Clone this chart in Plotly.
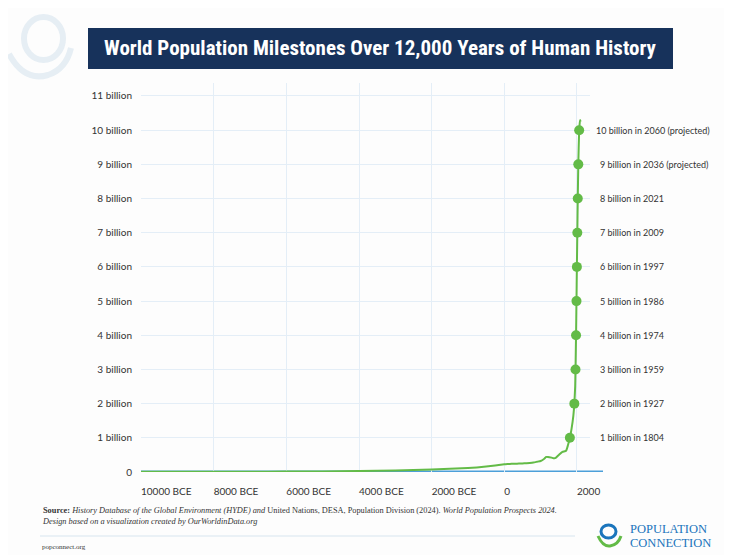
import plotly.graph_objects as go

# ---- data ----
years = [-10000, -9000, -8000, -7000, -6000, -5000, -4000, -3000, -2000, -1000, -500,
         0, 100, 200, 300, 400, 500, 600, 700, 800, 900, 1000, 1100, 1150, 1200, 1300,
         1350, 1400, 1500, 1600, 1700, 1750, 1800, 1804, 1850, 1900, 1927, 1950, 1959,
         1974, 1986, 1997, 2009, 2021, 2036, 2060, 2084, 2100]
population_bn = [0.0044, 0.0054, 0.0070, 0.0090, 0.0116, 0.018, 0.028, 0.045, 0.072,
                 0.115, 0.160, 0.225, 0.232, 0.238, 0.242, 0.246, 0.252, 0.258, 0.265,
                 0.278, 0.300, 0.322, 0.390, 0.440, 0.440, 0.420, 0.405, 0.405, 0.500,
                 0.590, 0.620, 0.780, 0.985, 1.0, 1.26, 1.65, 2.0, 2.5, 3.0, 4.0, 5.0,
                 6.0, 7.0, 8.0, 9.0, 10.0, 10.3, 10.25]

milestone_years = [1804, 1927, 1959, 1974, 1986, 1997, 2009, 2021, 2036, 2060]
milestone_values = [1, 2, 3, 4, 5, 6, 7, 8, 9, 10]
milestone_labels = ["1 billion in 1804", "2 billion in 1927", "3 billion in 1959",
                    "4 billion in 1974", "5 billion in 1986", "6 billion in 1997",
                    "7 billion in 2009", "8 billion in 2021",
                    "9 billion in 2036 (projected)", "10 billion in 2060 (projected)"]

x_tickvals = [-10000, -8000, -6000, -4000, -2000, 0, 2000]
x_ticktext = ["10000 BCE", "8000 BCE", "6000 BCE", "4000 BCE", "2000 BCE", "0", "2000"]
y_tickvals = list(range(0, 12))
y_ticktext = ["0"] + [f"{i} billion" for i in range(1, 12)]

title_text = "World Population Milestones Over 12,000 Years of Human History"

# ---- geometry helpers (target pixel -> paper); page body has an 8px margin ----
OFF = 8
W, H = 732 - OFF, 555 - OFF
L, R, T, B = 141, 590, 83, 472          # plot area in target pixels
def px(x):
    return (x - L) / (R - L)
def py(y):
    return (B - y) / (B - T)

GREEN = "#63bb47"
NAVY = "#17325b"
GRID = "#e4eef7"
TXT = "#333333"
FONT = "Lato"
PALE = "#e6eef4"

fig = go.Figure()

fig.add_trace(go.Scatter(
    x=years, y=population_bn, mode="lines",
    line=dict(color=GREEN, width=2, shape="spline", smoothing=0.4),
    hoverinfo="skip", showlegend=False))

fig.add_trace(go.Scatter(
    x=milestone_years, y=milestone_values, mode="markers",
    marker=dict(color=GREEN, size=10),
    showlegend=False))

shapes = []
# blue baseline
shapes.append(dict(type="line", xref="paper", yref="y", x0=px(141), x1=px(603), y0=0, y1=0,
                   line=dict(color="#4c9fd9", width=3), layer="below"))
# title banner
shapes.append(dict(type="rect", xref="paper", yref="paper", x0=px(88), x1=px(673),
                   y0=py(69), y1=py(28), fillcolor=NAVY, line=dict(width=0)))
# top-left faint logo
shapes.append(dict(type="circle", xref="paper", yref="paper", x0=px(24), x1=px(63),
                   y0=py(60), y1=py(17), line=dict(color=PALE, width=6)))
shapes.append(dict(type="path", xref="paper", yref="paper",
                   path=f"M {px(9)},{py(54)} Q {px(24)},{py(82)} {px(48)},{py(75)} Q {px(66)},{py(69)} {px(71)},{py(48)}",
                   line=dict(color=PALE, width=6)))
# footer separator
shapes.append(dict(type="line", xref="paper", yref="paper", x0=px(40), x1=px(575),
                   y0=py(536), y1=py(536), line=dict(color="#e3ecf3", width=1.5)))
# bottom-right logo
shapes.append(dict(type="circle", xref="paper", yref="paper", x0=px(601), x1=px(616),
                   y0=py(538), y1=py(525), line=dict(color="#1b75bc", width=3)))
shapes.append(dict(type="path", xref="paper", yref="paper",
                   path=f"M {px(598)},{py(536)} Q {px(603)},{py(547)} {px(610)},{py(546)} Q {px(618)},{py(545)} {px(621)},{py(536)}",
                   line=dict(color="#63bb47", width=3)))

annotations = []
annotations.append(dict(text=title_text, xref="paper", yref="paper", x=px(380), y=py(48),
                        showarrow=False, xanchor="center", yanchor="middle",
                        font=dict(family="Roboto Condensed, Roboto", size=21,
                                  color="white", weight="bold")))
for yr, v, lab in zip(milestone_years, milestone_values, milestone_labels):
    annotations.append(dict(text=lab, xref="paper", yref="y", x=px(594 if v >= 10 else 598), y=v,
                            showarrow=False, xanchor="left", yanchor="middle",
                            font=dict(family=FONT, size=9, color=TXT)))
annotations.append(dict(
    text="<b>Source:</b> <i>History Database of the Global Environment (HYDE) and</i> United Nations, DESA, Population Division (2024). <i>World Population Prospects 2024.</i>"
         "<br><i>Design based on a visualization created by OurWorldinData.org</i>",
    xref="paper", yref="paper", x=px(40), y=py(504), showarrow=False, xanchor="left", yanchor="top",
    align="left", font=dict(family="Liberation Serif", size=8.3, color=TXT)))
annotations.append(dict(text="popconnect.org", xref="paper", yref="paper", x=px(40), y=py(547),
                        showarrow=False, xanchor="left", yanchor="middle",
                        font=dict(family="Liberation Serif", size=7, color=TXT)))
annotations.append(dict(text="POPULATION", xref="paper", yref="paper", x=px(628), y=py(528.5),
                        showarrow=False, xanchor="left", yanchor="middle",
                        font=dict(family="Liberation Serif", size=12.5, color="#1b75bc")))
annotations.append(dict(text="CONNECTION", xref="paper", yref="paper", x=px(628), y=py(542.5),
                        showarrow=False, xanchor="left", yanchor="middle",
                        font=dict(family="Liberation Serif", size=12.5, color="#1b75bc")))

fig.update_layout(
    width=W, height=H,
    margin=dict(l=L - OFF, r=W - (R - OFF), t=T - OFF, b=H - (B - OFF), pad=0),
    paper_bgcolor="#fdfdfd", plot_bgcolor="#fdfdfd",
    shapes=shapes, annotations=annotations,
    showlegend=False,
    xaxis=dict(range=[-10000, 2358], tickvals=x_tickvals, ticktext=x_ticktext,
               showgrid=True, gridcolor=GRID, gridwidth=1, zeroline=False, showline=False,
               ticks="", ticklabelposition="outside right", ticklabelstandoff=12,
               tickfont=dict(family=FONT, size=10, color=TXT)),
    yaxis=dict(range=[0, 11.38], tickvals=y_tickvals, ticktext=y_ticktext,
               showgrid=True, gridcolor=GRID, gridwidth=1, zeroline=False, showline=False,
               ticks="", ticklabelstandoff=8,
               tickfont=dict(family=FONT, size=10, color=TXT)),
)

fig.write_html("out.html")
